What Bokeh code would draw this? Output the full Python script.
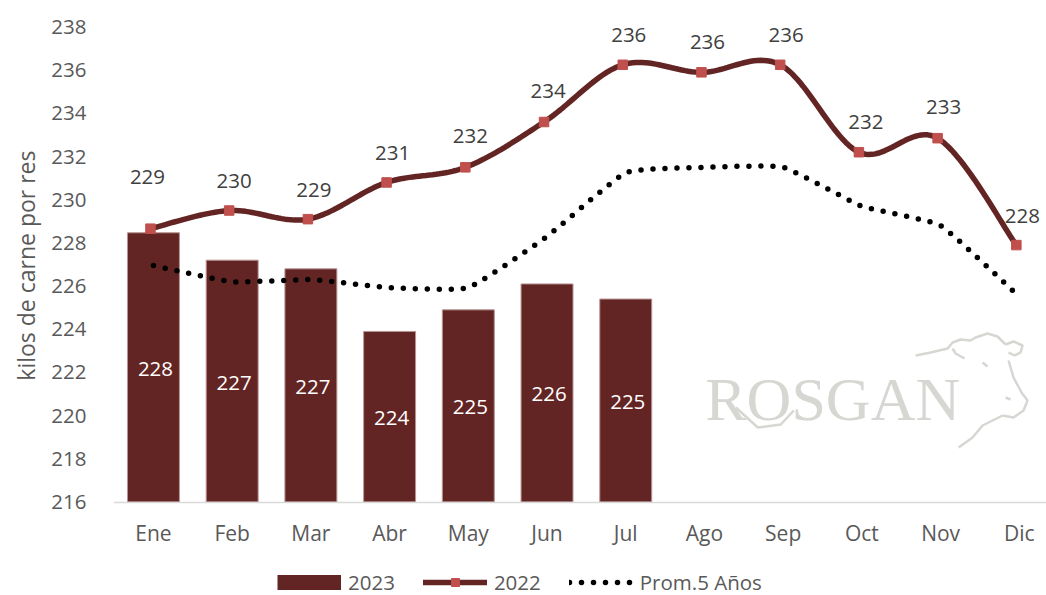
from bokeh.embed import file_html
from bokeh.resources import INLINE
from bokeh.plotting import figure
from bokeh.models import Legend, LegendItem, FixedTicker, Title
from bokeh.core.properties import value

months = ["Ene", "Feb", "Mar", "Abr", "May", "Jun", "Jul", "Ago", "Sep", "Oct", "Nov", "Dic"]
y_ticks = [216, 218, 220, 222, 224, 226, 228, 230, 232, 234, 236, 238]
v2023 = [228.47, 227.2, 226.8, 223.9, 224.9, 226.1, 225.4]
v2022 = [228.66, 229.5, 229.1, 230.8, 231.5, 233.6, 236.25, 235.9, 236.25, 232.2, 232.85, 227.9]
prom5 = [226.95, 226.2, 226.3, 225.93, 225.93, 228.3, 231.25, 231.5, 231.5, 229.7, 228.8, 225.5]
lab2023 = ["228", "227", "227", "224", "225", "226", "225"]
lab2022 = ["229", "230", "229", "231", "232", "234", "236", "236", "236", "232", "233", "228"]
lab2022_dx = [-3, 5, 6, 6, 5, 4, 6, 6, 6, 7, 6, 6]
lab2022_dy = [-52, -30, -29, -29, -31, -31, -30, -30, -30, -30, -31, -29]

DARK = "#632523"
MARK = "#C0504D"
GREY = "#595959"
FONT = "Open Sans"

# pixel geometry of the picture and of the plot frame
W, H = 1046, 595
LEFT, TOP = 112, 26
Y216, Y238 = 501.5, 26.5
STEP, X0 = 78.8, 152


def px_x(v):
    return (v - X0) / STEP


def px_y(v):
    return 216 + (Y216 - v) / (Y216 - Y238) * 22


def smooth(xs, ys, k=0.5, n=24):
    """Smoothed series line through the given points, as a spreadsheet draws it."""
    ox, oy = [], []
    m = len(xs)
    for i in range(m - 1):
        a, b, c, d = max(i - 1, 0), i, i + 1, min(i + 2, m - 1)
        for j in range(n):
            t = j / n
            h00 = 2 * t ** 3 - 3 * t ** 2 + 1
            h10 = t ** 3 - 2 * t ** 2 + t
            h01 = -2 * t ** 3 + 3 * t ** 2
            h11 = t ** 3 - t ** 2
            def herm(p):
                return h00 * p[b] + h10 * k * (p[c] - p[a]) + h01 * p[c] + h11 * k * (p[d] - p[b])
            ox.append(herm(xs))
            oy.append(herm(ys))
    ox.append(xs[-1])
    oy.append(ys[-1])
    return ox, oy


p = figure(width=W, height=H, output_backend="svg", toolbar_location=None,
           x_range=(px_x(LEFT), px_x(W)), y_range=(px_y(H), px_y(TOP)),
           min_border_left=LEFT, min_border_right=0, min_border_top=TOP, min_border_bottom=0,
           background_fill_color="white", border_fill_color="white", outline_line_color=None)
p.grid.visible = False

# axes
p.xaxis.fixed_location = 216
p.xaxis.ticker = FixedTicker(ticks=list(range(12)))
p.xaxis.major_label_overrides = {i: m for i, m in enumerate(months)}
p.xaxis.axis_line_color = "#D9D9D9"
p.xaxis.axis_line_width = 1.5
p.xaxis.major_tick_line_color = None
p.xaxis.minor_tick_line_color = None
p.xaxis.major_tick_out = 0
p.xaxis.minor_tick_out = 0
p.xaxis.major_label_text_font = FONT
p.xaxis.major_label_text_font_size = "21px"
p.xaxis.major_label_text_color = GREY
p.xaxis.major_label_standoff = 17

p.yaxis.ticker = FixedTicker(ticks=y_ticks)
p.yaxis.axis_line_color = None
p.yaxis.major_tick_line_color = None
p.yaxis.minor_tick_line_color = None
p.yaxis.major_tick_out = 0
p.yaxis.minor_tick_out = 0
p.yaxis.major_label_text_font = FONT
p.yaxis.major_label_text_font_size = "20.5px"
p.yaxis.major_label_text_color = GREY
p.yaxis.major_label_standoff = 27

# the frame runs down to the legend, so the axis title is placed along the 216-238 span
p.add_layout(Title(text="kilos de carne por res", align="right", offset=124, standoff=14,
                   text_font=FONT, text_font_style="normal", text_font_size="23px", text_color=GREY),
             "left")

# watermark logo (decoration, page pixels converted to chart space)
LOGO = "#D6D7D2"
p.text([px_x(832)], [px_y(398)], text=["ROSGAN"], text_font=value("Liberation Serif"),
       text_font_size="62px", text_color=LOGO, text_align="center", text_baseline="middle")
cow = [
    [(915, 355), (930, 352), (947, 348), (952, 342), (960, 339), (970, 340), (975, 337), (987, 333), (997, 336), (1005, 344)],
    [(1005, 344), (1013, 341), (1022, 345), (1020, 352), (1014, 355), (1008, 352)],
    [(952, 348), (955, 353), (964, 358)],
    [(1008, 360), (1013, 377), (1021, 392), (1027, 400), (1023, 410), (1013, 417), (1002, 415)],
    [(1002, 415), (982, 425), (972, 437), (958, 447)],
    [(982, 362), (987, 366)],
    [(1005, 397), (1010, 399)],
    [(735, 407), (757, 427), (780, 424), (793, 410)],
]
p.multi_line([[px_x(a) for a, _ in s] for s in cow], [[px_y(b) for _, b in s] for s in cow],
             line_color=LOGO, line_width=2.5)

# series
bars = p.vbar(x=list(range(len(v2023))), top=v2023, bottom=216, width=0.66,
              fill_color=DARK, line_color="#B89595", line_width=1)

line_shift = -3 / STEP
x22 = [i + line_shift for i in range(12)]
sx, sy = smooth(x22, v2022, k=0.5)
l22 = p.line(sx, sy, line_color=DARK, line_width=5.5, line_cap="round")
m22 = p.scatter(x22, v2022, marker="square", size=9.5, fill_color=MARK, line_color=MARK)

px5, py5 = smooth(list(range(12)), prom5, k=0.2)
l5 = p.line(px5, py5, line_color="black", line_width=5.5, line_dash="0 12", line_cap="round")

# data labels
p.text(list(range(len(v2023))), [(216 + v) / 2 for v in v2023], text=lab2023,
       x_offset=2, y_offset=1.5, text_font=value(FONT), text_font_size="20.5px", text_color="white",
       text_align="center", text_baseline="middle")
p.text(x22, v2022, text=lab2022, x_offset=lab2022_dx, y_offset=lab2022_dy,
       text_font=value(FONT), text_font_size="20.5px", text_color="#404040",
       text_align="center", text_baseline="middle")

# legend: the bar swatch is a wide line kept out of the visible range, so that it fills its box
swatch = p.line([0, 1], [px_y(H + 50), px_y(H + 50)], line_color=DARK, line_width=15, line_cap="butt")
legend = Legend(items=[LegendItem(label="2023", renderers=[swatch]),
                       LegendItem(label="2022", renderers=[l22, m22]),
                       LegendItem(label="Prom.5 Años", renderers=[l5])],
                orientation="horizontal", location=(276 - LEFT, -1),
                glyph_width=64, glyph_height=20, label_standoff=7, spacing=28,
                padding=0, margin=0, border_line_color=None, background_fill_alpha=0,
                label_text_font=FONT, label_text_font_size="20.5px", label_text_color=GREY,
                label_height=20)
p.add_layout(legend, "center")

open("out.html", "w").write(file_html(p, INLINE))
